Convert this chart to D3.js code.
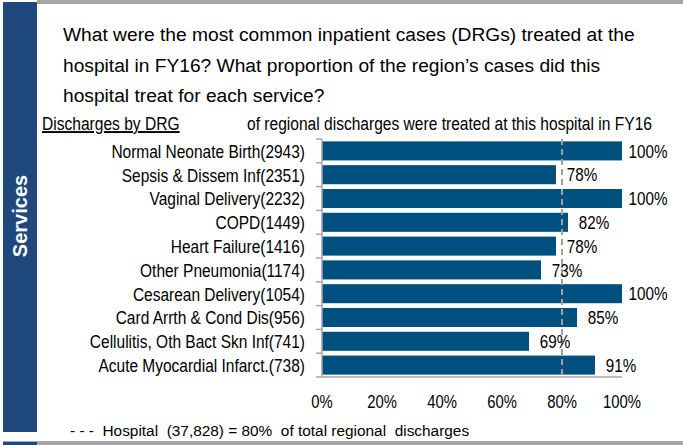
<!DOCTYPE html>
<html>
<head>
<meta charset="utf-8">
<script src="https://cdn.jsdelivr.net/npm/d3@7"></script>
<style>
  html, body { margin: 0; padding: 0; background: #fff; }
  svg { display: block; font-family: "Liberation Sans", Arial, sans-serif; }
</style>
</head>
<body>
<div id="chart"></div>
<script>
// 数据
const categories = [
	"Normal Neonate Birth(2943)",
	"Sepsis & Dissem Inf(2351)",
	"Vaginal Delivery(2232)",
	"COPD(1449)",
	"Heart Failure(1416)",
	"Other Pneumonia(1174)",
	"Cesarean Delivery(1054)",
	"Card Arrth & Cond Dis(956)",
	"Cellulitis, Oth Bact Skn Inf(741)",
	"Acute Myocardial Infarct.(738)"
];
const shares = [100, 78, 100, 82, 78, 73, 100, 85, 69, 91];
const xTicks = [0, 20, 40, 60, 80, 100];
const hospitalShare = 80;
const titleLines = [
	"What were the most common inpatient cases (DRGs) treated at the",
	"hospital in FY16? What proportion of the region\u2019s cases did this",
	"hospital treat for each service?"
];

const width = 683;
const height = 445;
const barColor = "#00507f";
const sideColor = "#1f497d";
const grey = "#a6a6a6";
const narrow = 0.82; // 窄体字宽比例

const data = categories.map((c, i) => ({ name: c, value: shares[i] }));

// 窄字体：平移后横向压缩
function squeeze(px, py) {
	return `translate(${px},${py}) scale(${narrow},1)`;
}

const svg = d3.select("#chart")
	.append("svg")
	.attr("width", width)
	.attr("height", height)
	.attr("viewBox", [0, 0, width, height]);

// 边框
svg.append("rect").attr("x", 37).attr("y", 0).attr("width", width - 37).attr("height", 4).attr("fill", grey);
svg.append("rect").attr("x", 3).attr("y", 2).attr("width", 34).attr("height", 430).attr("fill", sideColor);
svg.append("rect").attr("x", 3).attr("y", 441).attr("width", width - 3).attr("height", 4).attr("fill", grey);
svg.append("rect").attr("x", 3).attr("y", 442).attr("width", 34).attr("height", 3).attr("fill", sideColor);

svg.append("text")
	.attr("transform", "translate(27,216) rotate(-90)")
	.attr("text-anchor", "middle")
	.attr("fill", "#fff")
	.attr("font-weight", "bold")
	.attr("font-size", 20)
	.text("Services");

// 标题
svg.append("g")
	.selectAll("text")
	.data(titleLines)
	.join("text")
	.attr("x", 63)
	.attr("y", (d, i) => 41 + i * 30.5)
	.attr("font-size", 19.2)
	.attr("fill", "#000")
	.text(d => d);

svg.append("text")
	.attr("transform", squeeze(42, 130))
	.attr("font-size", 19)
	.attr("text-decoration", "underline")
	.text("Discharges by DRG");

svg.append("text")
	.attr("transform", squeeze(247, 130))
	.attr("font-size", 19)
	.text("of regional discharges were treated at this hospital in FY16");

// 比例尺
const margin = { top: 139, bottom: 377, left: 322, right: 622 };

const x = d3.scaleLinear()
	.domain([0, 100])
	.range([margin.left, margin.right]);

const y = d3.scaleBand()
	.domain(categories)
	.range([margin.top, margin.bottom])
	.paddingInner(0.2)
	.paddingOuter(0.1);

// 柱子
svg.append("g")
	.attr("class", "bars")
	.selectAll("rect")
	.data(data)
	.join("rect")
	.attr("x", x(0))
	.attr("y", d => y(d.name))
	.attr("width", d => x(d.value) - x(0))
	.attr("height", y.bandwidth())
	.attr("fill", barColor);

// 左轴
const boundaries = categories.map(c => y(c) - y.step() * 0.1).concat([margin.bottom]);
const axis = svg.append("g").attr("stroke", grey).attr("stroke-width", 1.5);
axis.append("line")
	.attr("x1", x(0)).attr("x2", x(0))
	.attr("y1", margin.top).attr("y2", margin.bottom);
axis.append("line")
	.attr("x1", x(0)).attr("x2", x(100))
	.attr("y1", margin.bottom).attr("y2", margin.bottom);
axis.selectAll(".tick")
	.data(boundaries)
	.join("line")
	.attr("class", "tick")
	.attr("x1", x(0) - 6).attr("x2", x(0))
	.attr("y1", d => d).attr("y2", d => d);

svg.append("g")
	.selectAll("text")
	.data(categories)
	.join("text")
	.attr("transform", d => squeeze(305, y(d) + y.bandwidth() / 2))
	.attr("dy", "0.36em")
	.attr("text-anchor", "end")
	.attr("font-size", 18.9)
	.text(d => d);

// 医院平均线
svg.append("line")
	.attr("x1", x(hospitalShare)).attr("x2", x(hospitalShare))
	.attr("y1", margin.top).attr("y2", margin.bottom)
	.attr("stroke", "#a0a0a0")
	.attr("stroke-width", 2)
	.attr("stroke-dasharray", "6,4");

// 数值标签
svg.append("g")
	.selectAll("text")
	.data(data)
	.join("text")
	.attr("transform", d => squeeze(x(d.value) + 26, y(d.name) + y.bandwidth() / 2))
	.attr("dy", "0.36em")
	.attr("text-anchor", "middle")
	.attr("font-size", 18.6)
	.text(d => d.value + "%");

// x 轴
svg.append("g")
	.selectAll("text")
	.data(xTicks)
	.join("text")
	.attr("transform", d => squeeze(x(d), 408))
	.attr("text-anchor", "middle")
	.attr("font-size", 18.1)
	.text(d => d + "%");

// 图例
svg.append("text")
	.attr("x", 70)
	.attr("y", 436)
	.attr("font-size", 15.4)
	.style("white-space", "pre")
	.text("- - -  Hospital  (37,828) = " + hospitalShare + "%  of total regional  discharges");
</script>
</body>
</html>
